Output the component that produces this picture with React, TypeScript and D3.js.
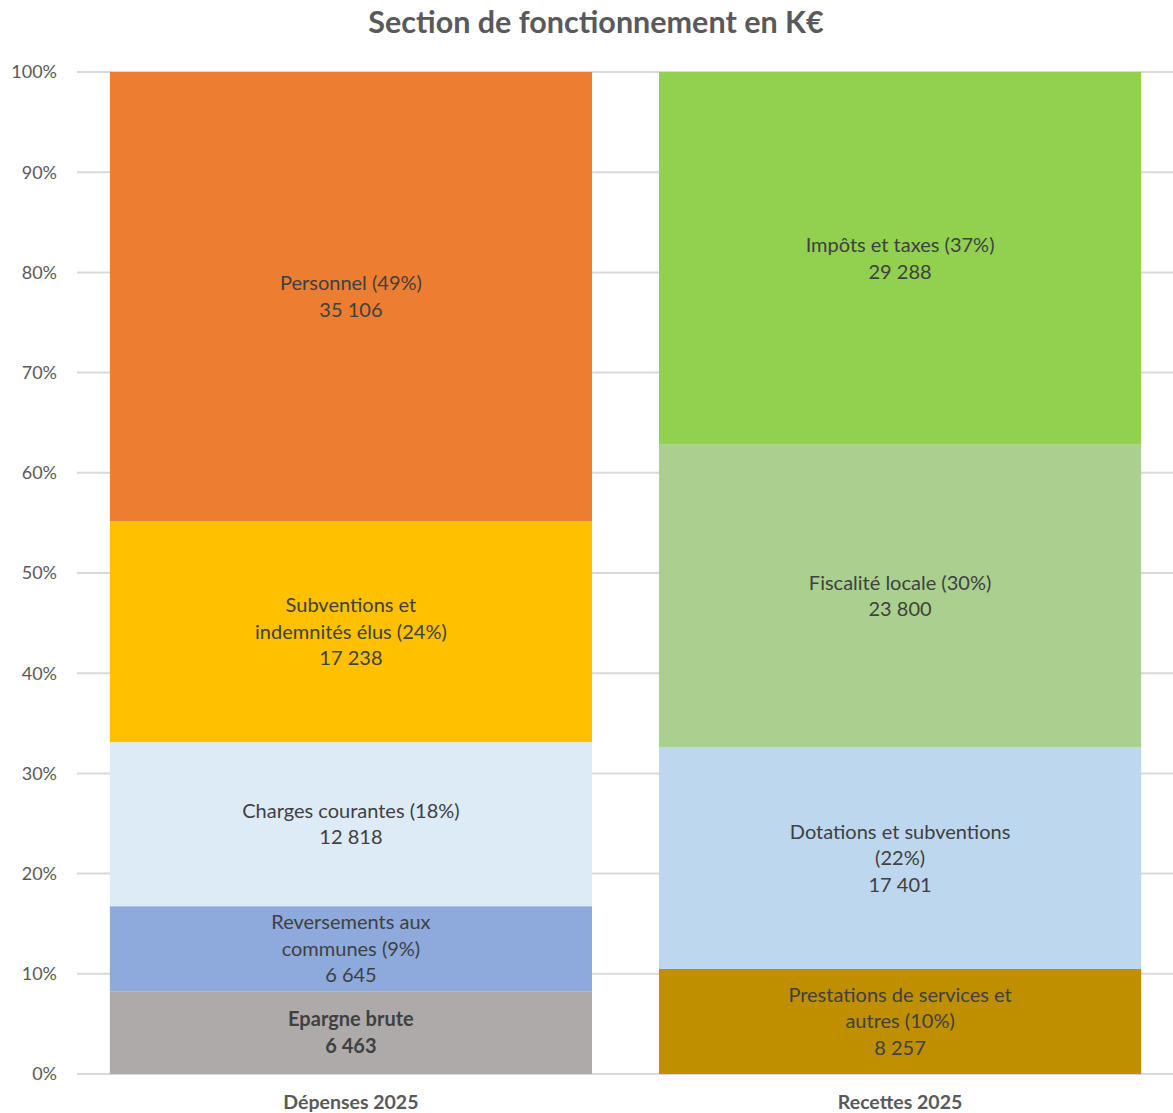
import React from "react";
import * as d3 from "d3";

const categories = ["Dépenses 2025", "Recettes 2025"];

const depensesNames = [
  "Epargne brute",
  "Reversements aux communes",
  "Charges courantes",
  "Subventions et indemnités élus",
  "Personnel",
];
const depensesValues = [6463, 6645, 12818, 17238, 35106];
const depensesLabelLines = [
  ["Epargne brute", "6 463"],
  ["Reversements aux", "communes (9%)", "6 645"],
  ["Charges courantes (18%)", "12 818"],
  ["Subventions et", "indemnités élus (24%)", "17 238"],
  ["Personnel (49%)", "35 106"],
];
const depensesColors = ["#AEAAAA", "#8EA9DB", "#DDEBF7", "#FFC000", "#ED7D31"];

const recettesNames = [
  "Prestations de services et autres",
  "Dotations et subventions",
  "Fiscalité locale",
  "Impôts et taxes",
];
const recettesValues = [8257, 17401, 23800, 29288];
const recettesLabelLines = [
  ["Prestations de services et", "autres (10%)", "8 257"],
  ["Dotations et subventions", "(22%)", "17 401"],
  ["Fiscalité locale (30%)", "23 800"],
  ["Impôts et taxes (37%)", "29 288"],
];
const recettesColors = ["#BF8F00", "#BDD7EE", "#A9D08E", "#92D050"];

const yTicks = [0, 0.1, 0.2, 0.3, 0.4, 0.5, 0.6, 0.7, 0.8, 0.9, 1];

const title = "Section de fonctionnement en K€";

const FONT = "Lato, 'Open Sans', sans-serif";

type Seg = { name: string; y0: number; y1: number; color: string; lines: string[]; bold: boolean };

function buildSegs(names: string[], values: number[], colors: string[], lines: string[][], boldFirst: boolean): Seg[] {
  const total = d3.sum(values);
  let acc = 0;
  return values.map((v, i) => {
    const y0 = acc / total;
    acc += v;
    const y1 = acc / total;
    return { name: names[i], y0, y1, color: colors[i], lines: lines[i], bold: boldFirst && i === 0 };
  });
}

export default function App() {
  const W = 1173;
  const H = 1113;
  const y = d3.scaleLinear().domain([0, 1]).range([1074, 72]);
  const x = d3
    .scaleBand<string>()
    .domain(categories)
    .range([78, 1173])
    .paddingInner(0.122)
    .paddingOuter(0.058);

  const stacks = [
    buildSegs(depensesNames, depensesValues, depensesColors, depensesLabelLines, true),
    buildSegs(recettesNames, recettesValues, recettesColors, recettesLabelLines, false),
  ];

  const lineH = 26.5;

  return (
    <svg
      width={W}
      height={H}
      style={{ position: "absolute", left: 0, top: 0, background: "#fff" }}
      fontFamily={FONT}
    >
      <text
        x={596}
        y={33}
        textAnchor="middle"
        fontSize={30.5}
        fontWeight="bold"
        fill="#595959"
      >
        {title}
      </text>

      {yTicks.map((t) => (
        <g key={t}>
          <line x1={77} x2={W} y1={y(t)} y2={y(t)} stroke="#D9D9D9" strokeWidth={2} />
          <text
            x={57}
            y={y(t)}
            dy="0.35em"
            textAnchor="end"
            fontSize={18}
            fill="#595959"
          >
            {d3.format(".0%")(t)}
          </text>
        </g>
      ))}

      {stacks.map((segs, ci) => {
        const cat = categories[ci];
        const bx = x(cat)!;
        const bw = x.bandwidth();
        return (
          <g key={cat}>
            {segs.map((s) => (
              <rect
                key={s.name}
                x={bx}
                y={y(s.y1)}
                width={bw}
                height={y(s.y0) - y(s.y1)}
                fill={s.color}
              />
            ))}
            {segs.map((s) => {
              const cy = (y(s.y0) + y(s.y1)) / 2;
              const n = s.lines.length;
              const start = cy - ((n - 1) * lineH) / 2;
              return (
                <text
                  key={s.name + "-l"}
                  x={bx + bw / 2}
                  textAnchor="middle"
                  fontSize={20}
                  fontWeight={s.bold ? "bold" : "normal"}
                  fill="#404040"
                >
                  {s.lines.map((l, li) => (
                    <tspan key={li} x={bx + bw / 2} y={start + li * lineH} dy="0.35em">
                      {l}
                    </tspan>
                  ))}
                </text>
              );
            })}
            <text
              x={bx + bw / 2}
              y={1102}
              dy="0.35em"
              textAnchor="middle"
              fontSize={19.5}
              fontWeight="bold"
              fill="#595959"
            >
              {cat}
            </text>
          </g>
        );
      })}
    </svg>
  );
}
